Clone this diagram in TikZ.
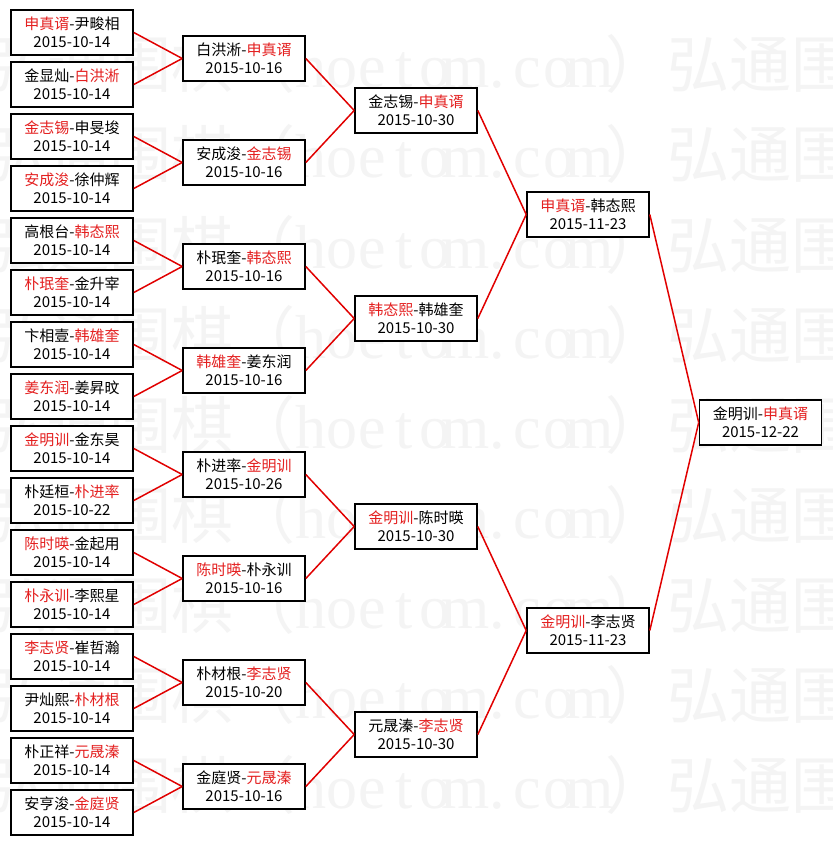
\documentclass[tikz,border=0pt]{standalone}
\usepackage{fontspec}
\setmainfont{Noto Sans CJK SC}
\newfontfamily\wmlatin{Liberation Serif}
\definecolor{wincol}{RGB}{228,32,32}
\definecolor{wmcol}{RGB}{244,244,244}
\definecolor{lncol}{RGB}{225,0,0}
\newcommand\W[1]{\textcolor{wincol}{#1}}
\newcommand\wl[1]{\makebox[31pt][c]{\wmlatin #1}}
\newcommand\wmunit{弘通围棋（\wl{h}\wl{o}\wl{e}\wl{t}\wl{o}\wl{m}\wl{.}\wl{c}\wl{o}\wl{m}）}
\tikzset{
  matchbox/.style={draw=black, line width=1.6pt, fill=white, minimum width=122pt,
    minimum height=45pt, inner sep=0pt, align=center,
    font=\fontsize{15}{18}\selectfont},
  conn/.style={draw=lncol, line width=1.5pt},
  wmtext/.style={anchor=base west, inner sep=0pt, text=wmcol,
    font=\fontsize{62}{62}\selectfont}
}
\begin{document}
\begin{tikzpicture}[x=1pt,y=-1pt]
\useasboundingbox (0,0) rectangle (832,845);
\fill[white] (0,0) rectangle (832,845);
\begin{scope}
\clip (0,0) rectangle (832,845);
\foreach \k in {0,...,8} {
  \node[wmtext] (w\k) at (-15,{88+90*\k}) {\wmunit\wmunit};
}
\end{scope}

% column 1
\node[matchbox] (a1) at (72,32.5) {\W{申真谞}-尹畯相\\2015-10-14};
\node[matchbox] (a2) at (72,84.5) {金显灿-\W{白洪淅}\\2015-10-14};
\node[matchbox] (a3) at (72,136.5) {\W{金志锡}-申旻埈\\2015-10-14};
\node[matchbox] (a4) at (72,188.5) {\W{安成浚}-徐仲辉\\2015-10-14};
\node[matchbox] (a5) at (72,240.5) {高根台-\W{韩态熙}\\2015-10-14};
\node[matchbox] (a6) at (72,292.5) {\W{朴珉奎}-金升宰\\2015-10-14};
\node[matchbox] (a7) at (72,344.5) {卞相壹-\W{韩雄奎}\\2015-10-14};
\node[matchbox] (a8) at (72,396.5) {\W{姜东润}-姜昇旼\\2015-10-14};
\node[matchbox] (a9) at (72,448.5) {\W{金明训}-金东昊\\2015-10-14};
\node[matchbox] (a10) at (72,500.5) {朴廷桓-\W{朴进率}\\2015-10-22};
\node[matchbox] (a11) at (72,552.5) {\W{陈时暎}-金起用\\2015-10-14};
\node[matchbox] (a12) at (72,604.5) {\W{朴永训}-李熙星\\2015-10-14};
\node[matchbox] (a13) at (72,656.5) {\W{李志贤}-崔哲瀚\\2015-10-14};
\node[matchbox] (a14) at (72,708.5) {尹灿熙-\W{朴材根}\\2015-10-14};
\node[matchbox] (a15) at (72,760.5) {朴正祥-\W{元晟溱}\\2015-10-14};
\node[matchbox] (a16) at (72,812.5) {安亨浚-\W{金庭贤}\\2015-10-14};

% column 2
\node[matchbox] (b1) at (244,58.5) {白洪淅-\W{申真谞}\\2015-10-16};
\node[matchbox] (b2) at (244,162.5) {安成浚-\W{金志锡}\\2015-10-16};
\node[matchbox] (b3) at (244,266.5) {朴珉奎-\W{韩态熙}\\2015-10-16};
\node[matchbox] (b4) at (244,370.5) {\W{韩雄奎}-姜东润\\2015-10-16};
\node[matchbox] (b5) at (244,474.5) {朴进率-\W{金明训}\\2015-10-26};
\node[matchbox] (b6) at (244,578.5) {\W{陈时暎}-朴永训\\2015-10-16};
\node[matchbox] (b7) at (244,682.5) {朴材根-\W{李志贤}\\2015-10-20};
\node[matchbox] (b8) at (244,786.5) {金庭贤-\W{元晟溱}\\2015-10-16};

% column 3
\node[matchbox] (c1) at (416,110.5) {金志锡-\W{申真谞}\\2015-10-30};
\node[matchbox] (c2) at (416,318.5) {\W{韩态熙}-韩雄奎\\2015-10-30};
\node[matchbox] (c3) at (416,526.5) {\W{金明训}-陈时暎\\2015-10-30};
\node[matchbox] (c4) at (416,734.5) {元晟溱-\W{李志贤}\\2015-10-30};

% column 4
\node[matchbox] (d1) at (588,214.5) {\W{申真谞}-韩态熙\\2015-11-23};
\node[matchbox] (d2) at (588,630.5) {\W{金明训}-李志贤\\2015-11-23};

% final
\node[matchbox] (e1) at (760.5,422.5) {金明训-\W{申真谞}\\2015-12-22};

% connectors
\foreach \i in {1,...,8} {
  \pgfmathtruncatemacro\p{2*\i-1}
  \pgfmathtruncatemacro\q{2*\i}
  \draw[conn] (a\p.east) -- (b\i.west);
  \draw[conn] (a\q.east) -- (b\i.west);
}
\foreach \i in {1,...,4} {
  \pgfmathtruncatemacro\p{2*\i-1}
  \pgfmathtruncatemacro\q{2*\i}
  \draw[conn] (b\p.east) -- (c\i.west);
  \draw[conn] (b\q.east) -- (c\i.west);
}
\foreach \i in {1,2} {
  \pgfmathtruncatemacro\p{2*\i-1}
  \pgfmathtruncatemacro\q{2*\i}
  \draw[conn] (c\p.east) -- (d\i.west);
  \draw[conn] (c\q.east) -- (d\i.west);
}
\draw[conn] (d1.east) -- (e1.west);
\draw[conn] (d2.east) -- (e1.west);
\end{tikzpicture}
\end{document}
